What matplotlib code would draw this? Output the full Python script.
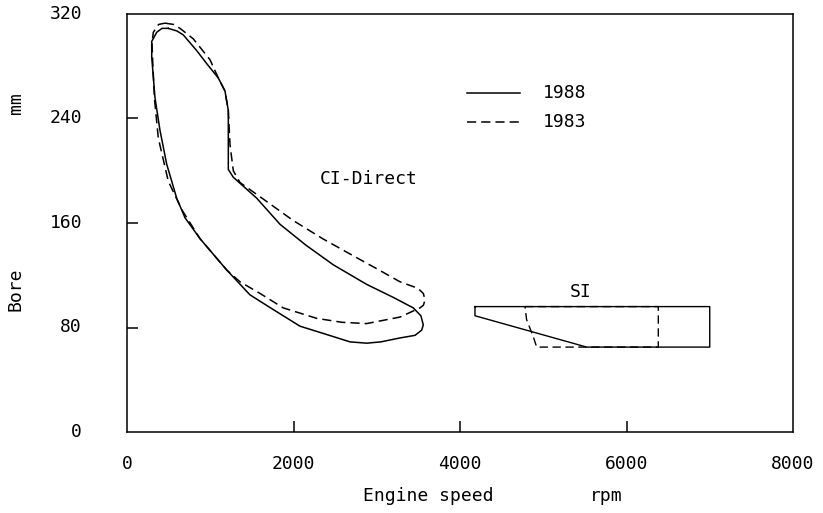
import numpy as np
import matplotlib
matplotlib.use("Agg")
import matplotlib.pyplot as plt

# CI-Direct operating envelope (closed outlines), rpm vs bore in mm
ci_1988_rpm = [496, 600, 676, 837, 970, 1097, 1177, 1217, 1217, 1277, 1558, 1838, 2150, 2478,
               2879, 3200, 3439, 3530, 3559, 3540, 3460, 3279, 3050, 2879, 2679, 2380, 2078,
               1750, 1477, 1198, 877, 697, 597, 477, 396, 336, 297, 297, 357, 420, 496]
ci_1988_bore = [309, 307, 304, 292, 281, 271, 261, 246, 201, 195, 179, 159, 143, 128,
                113, 103, 95, 89, 82, 78, 74, 72, 69, 68, 69, 75, 81,
                94, 105, 124, 148, 164, 179, 205, 231, 256, 287, 299, 306, 309, 309]

ci_1983_rpm = [456, 560, 637, 796, 997, 1097, 1177, 1217, 1237, 1277, 1357, 1622, 1994,
               2350, 2715, 3000, 3279, 3495, 3560, 3580, 3560, 3519, 3279, 2879, 2579, 2279,
               1877, 1600, 1357, 1198, 877, 660, 496, 376, 330, 310, 300, 316, 380, 456]
ci_1983_bore = [313, 312, 309, 301, 285, 271, 261, 246, 220, 200, 191, 179, 162,
                148, 135, 125, 115, 110, 106, 101, 97, 95, 88, 83, 84, 87,
                95, 106, 115, 124, 148, 170, 192, 225, 255, 282, 298, 306, 312, 313]

# SI envelopes
si_1988_rpm = [4180, 7000, 7000, 5522, 4180, 4180]
si_1988_bore = [96, 96, 65, 65, 89, 96]
si_1983_rpm = [4781, 6382, 6382, 4921, 4880, 4800, 4781]
si_1983_bore = [96, 96, 65, 65, 73, 86, 96]

xticks = [2000, 4000, 6000]
xlabels = ["0", "2000", "4000", "6000", "8000"]
yticks = [80, 160, 240]
ylabels = ["0", "80", "160", "240", "320"]

W, H = 823, 513
font = "DejaVu Sans Mono"
fs = 13
plt.rcParams['font.family'] = font

fig = plt.figure(figsize=(W / 100, H / 100), dpi=100)
ax = fig.add_axes([127 / W, 1 - 432 / H, (793 - 127) / W, (432 - 14) / H])

dash = (6, 3.3)
ax.plot(ci_1988_rpm, ci_1988_bore, color='black', lw=1.1)
ax.plot(ci_1983_rpm, ci_1983_bore, color='black', lw=1.1, dashes=dash)
ax.plot(si_1988_rpm, si_1988_bore, color='black', lw=1.0)
ax.plot(si_1983_rpm, si_1983_bore, color='black', lw=1.0, dashes=dash)

ax.set_xlim(0, 8000)
ax.set_ylim(0, 320)

# tick marks only inside, labels placed separately
ax.set_xticks(xticks)
ax.set_yticks(yticks)
ax.tick_params(direction='in', length=8, width=1.1, labelbottom=False, labelleft=False)
for s in ax.spines.values():
    s.set_linewidth(1.1)

# tick labels
for i, lab in enumerate(xlabels):
    ax.text(i * 2000, -32 / 104.5 * 80, lab, ha='center', va='center', fontsize=fs,
            clip_on=False)
for i, lab in enumerate(ylabels):
    ax.text(-45 / 666 * 8000, i * 80, lab, ha='right', va='center', fontsize=fs,
            clip_on=False)

# legend drawn by hand like the original
ax.plot([4081, 4717], [259.5, 259.5], color='black', lw=1.1)
ax.plot([4081, 4717], [237.3, 237.3], color='black', lw=1.1, dashes=dash)
ax.text(4993, 259.5, "1988", ha='left', va='center', fontsize=fs)
ax.text(4993, 237.3, "1983", ha='left', va='center', fontsize=fs)

ax.text(2900, 194, "CI-Direct", ha='center', va='center', fontsize=fs)
ax.text(5450, 107, "SI", ha='center', va='center', fontsize=fs)

# axis titles
fig.text(428 / W, 1 - 496 / H, "Engine speed", ha='center', va='center', fontsize=fs)
fig.text(606 / W, 1 - 496 / H, "rpm", ha='center', va='center', fontsize=fs)
fig.text(16 / W, 1 - 289 / H, "Bore", ha='center', va='center', fontsize=fs, rotation=90)
fig.text(16 / W, 1 - 103 / H, "mm", ha='center', va='center', fontsize=fs, rotation=90)

fig.savefig("out.png", dpi=100)
